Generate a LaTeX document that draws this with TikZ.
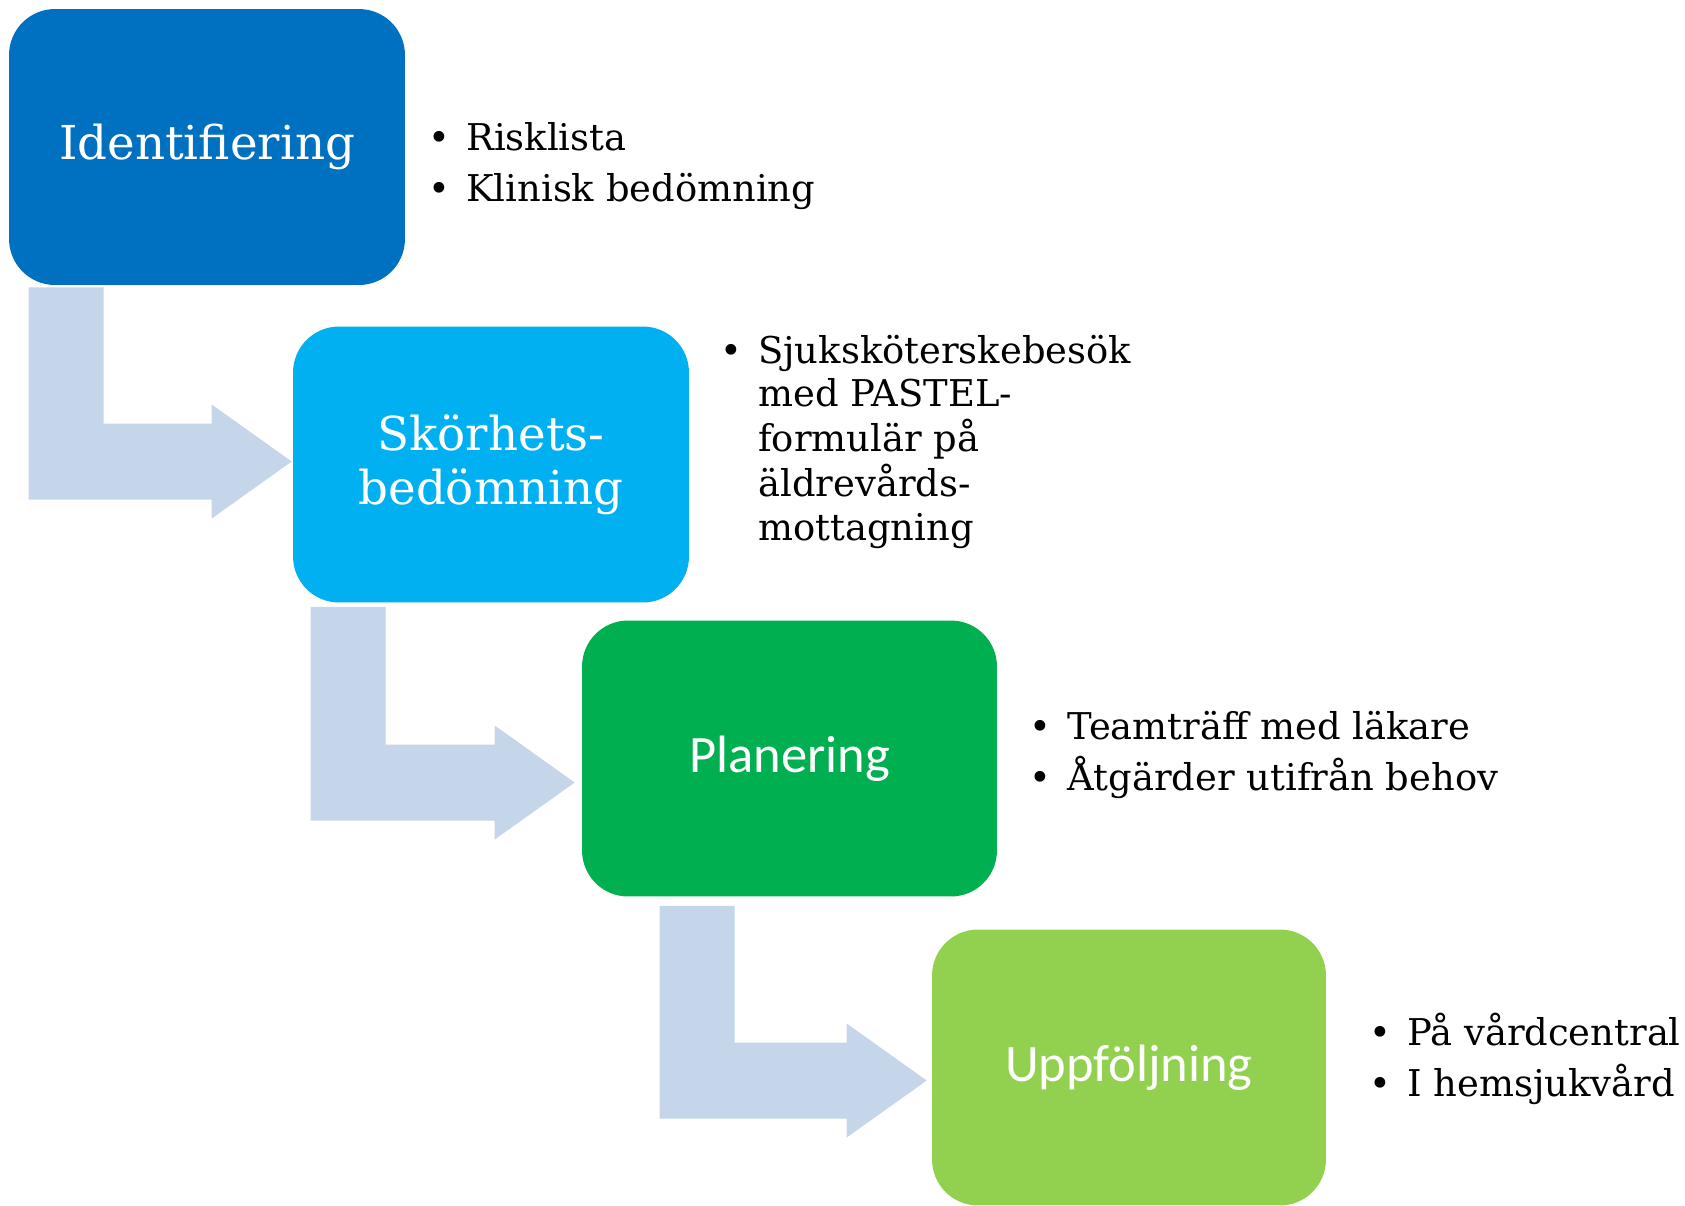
\documentclass[tikz,border=0pt]{standalone}
\usepackage{fontspec}
\setmainfont{DejaVu Serif}
\newfontfamily\calibri{Carlito}
\usetikzlibrary{calc}

\definecolor{stepone}{HTML}{0070C0}
\definecolor{steptwo}{HTML}{00B0F0}
\definecolor{stepthree}{HTML}{00B050}
\definecolor{stepfour}{HTML}{92D050}
\definecolor{arrowgrey}{HTML}{C5D5EA}

\tikzset{
  stage/.style={rounded corners=0.92cm, inner sep=0pt, text=white,
    minimum width=7.92cm, minimum height=5.52cm, align=center,
    font=\fontsize{26.6}{30.7}\selectfont},
  sansstage/.style={stage, font=\calibri\fontsize{29.9}{34}\selectfont},
  notes/.style={anchor=base west, inner sep=0pt,
    font=\fontsize{21.0}{29.4}\selectfont},
}

% bent arrow: from, to, tail shift, tip shift
\newcommand{\bentarrow}[4]{%
  \coordinate (#1-tail) at ($(#1.south west)+(#3)$);
  \coordinate (#2-tip) at ($(#2.west)+(#4)$);
  \fill[arrowgrey] (#1-tail) -- ++(75,0) |- ($(#2-tip)+(-80,-38)$) -- ++(0,-19)
    -- (#2-tip) -- ++(-80,57) -- ++(0,-19) -| (#1-tail) -- cycle;
}

\begin{document}
\begin{tikzpicture}[x=0.02cm, y=-0.02cm]
\useasboundingbox (0,0) rectangle (1685,1205);

%stages:
\node[stage, fill=stepone] (ident) at (207,147) {Identifiering};
\node[stage, fill=steptwo] (frail) at (491,464.5) {Skörhets-\\bedömning};
\node[sansstage, fill=stepthree, minimum width=8.3cm] (plan) at (789.5,758.5) {Planering};
\node[sansstage, fill=stepfour, minimum width=7.88cm] (follow) at (1129,1067.5) {Uppföljning};

%arrows between stages:
\bentarrow{ident}{frail}{20,2}{-1,-3}
\bentarrow{frail}{plan}{18,4}{-7,24}
\bentarrow{plan}{follow}{78,9}{-5,13}

%bullet lists:
\node[notes] (identnotes) at (428,150) {\begin{tabular}[t]{@{}p{21.6pt}@{}l@{}}
  \textbullet & Risklista\\
  \textbullet & Klinisk bedömning
\end{tabular}};
\node[notes, font=\fontsize{21.0}{24.6}\selectfont] (frailnotes) at (720,363) {\begin{tabular}[t]{@{}p{21.6pt}@{}l@{}}
  \textbullet & Sjuksköterskebesök\\
  & med PASTEL-\\
  & formulär på\\
  & äldrevårds-\\
  & mottagning
\end{tabular}};
\node[notes] (plannotes) at (1029,739) {\begin{tabular}[t]{@{}p{21.6pt}@{}l@{}}
  \textbullet & Teamträff med läkare\\
  \textbullet & Åtgärder utifrån behov
\end{tabular}};
\node[notes] (follownotes) at (1369,1045) {\begin{tabular}[t]{@{}p{21.6pt}@{}l@{}}
  \textbullet & På vårdcentral\\
  \textbullet & I hemsjukvård
\end{tabular}};

\end{tikzpicture}
\end{document}
